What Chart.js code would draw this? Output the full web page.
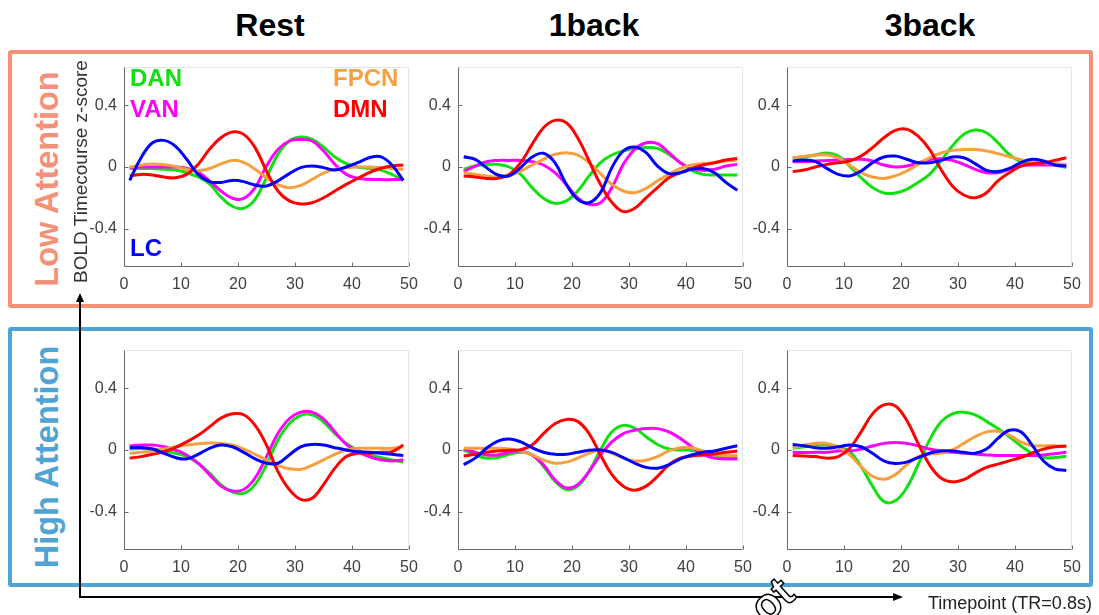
<!DOCTYPE html>
<html>
<head>
<meta charset="utf-8">
<script src="https://cdn.jsdelivr.net/npm/chart.js@4.4.1/dist/chart.umd.min.js"></script>
<style>
  html, body { margin: 0; padding: 0; background: #fff; }
  #fig { position: relative; width: 1099px; height: 615px; overflow: hidden; font-family: "Liberation Sans", Arial, sans-serif; }
  .col-title { position: absolute; top: 9px; width: 200px; text-align: center; font-weight: bold; font-size: 32px; line-height: 32px; color: #000; }
  .box { position: absolute; border: 4px solid; border-radius: 3px; box-sizing: border-box; }
  .row-label { position: absolute; width: 280px; height: 34px; line-height: 34px; text-align: center; font-weight: bold; font-size: 32.5px; transform: rotate(-90deg); white-space: nowrap; }
  .key { position: absolute; font-weight: bold; font-size: 24px; line-height: 24px; white-space: nowrap; }
  .panel { position: absolute; }
  #ylabel { position: absolute; left: -40px; top: 162px; width: 240px; height: 19px; line-height: 19px; font-size: 19px; text-align: center; color: #333; transform: rotate(-90deg); white-space: nowrap; }
  #xlabel { position: absolute; left: 928px; top: 592px; font-size: 18px; line-height: 22px; color: #222; white-space: nowrap; }
  #mark { position: absolute; left: 740px; top: 576px; width: 68px; height: 39px; overflow: hidden; }
  #mark span { position: absolute; left: 16px; top: 6px; font-weight: bold; font-size: 44px; line-height: 44px; color: #fff; -webkit-text-stroke: 1.5px #000; transform: rotate(-42deg); transform-origin: 30% 60%; }
</style>
</head>
<body>
<div id="fig">
  <div class="col-title" style="left:170px">Rest</div>
  <div class="col-title" style="left:494px">1back</div>
  <div class="col-title" style="left:830px">3back</div>

  <div class="box" style="left:8px; top:50px; width:1085px; height:258px; border-color:#f39279"></div>
  <div class="box" style="left:8px; top:327px; width:1085px; height:260px; border-color:#4fa4d3"></div>

  <div class="row-label" style="left:-93px; top:162px; color:#f39279">Low Attention</div>
  <div class="row-label" style="left:-93px; top:440px; color:#4fa4d3">High Attention</div>

  <canvas class="panel" id="low-rest" width="349" height="240" style="left:74px; top:59px"></canvas>
  <canvas class="panel" id="low-1back" width="349" height="240" style="left:408px; top:59px"></canvas>
  <canvas class="panel" id="low-3back" width="349" height="240" style="left:737px; top:59px"></canvas>
  <canvas class="panel" id="high-rest" width="349" height="240" style="left:74px; top:342px"></canvas>
  <canvas class="panel" id="high-1back" width="349" height="240" style="left:408px; top:342px"></canvas>
  <canvas class="panel" id="high-3back" width="349" height="240" style="left:737px; top:342px"></canvas>

  <div class="key" style="left:130px; top:66px; color:#10e010">DAN</div>
  <div class="key" style="left:130px; top:97px; color:#ff00ff">VAN</div>
  <div class="key" style="left:333px; top:66px; color:#f8a040">FPCN</div>
  <div class="key" style="left:333px; top:97px; color:#ff0000">DMN</div>
  <div class="key" style="left:130px; top:236px; color:#0000ff">LC</div>

  <div id="ylabel">BOLD Timecourse z-score</div>

  <svg style="position:absolute; left:0; top:0" width="1099" height="615">
    <line x1="80" y1="300" x2="80" y2="598" stroke="#000" stroke-width="2"/>
    <polygon points="80,293 76,302 84,302" fill="#000"/>
    <line x1="79" y1="597" x2="894" y2="597" stroke="#000" stroke-width="2"/>
    <polygon points="903,597 893,593 893,601" fill="#000"/>
  </svg>

  <div id="xlabel">Timepoint (TR=0.8s)</div>
  <div id="mark"><span>ot</span></div>
</div>

<script>
  const timepoints = [1, 3, 5, 7, 9, 11, 13, 15, 17, 19, 21, 23, 25, 27, 29, 31, 33, 35, 37, 39, 41, 43, 45, 47, 49];
  const xTicks = [0, 10, 20, 30, 40, 50];
  const yTicks = [-0.4, 0, 0.4];

  const networkNames = ["DAN", "VAN", "FPCN", "DMN", "LC"];
  const networkColors = ["#10e010", "#ff00ff", "#f8a040", "#ff0000", "#0000ff"];
  const drawOrder = [4, 3, 2, 1, 0]; // lower = drawn on top

  // Low attention
  const lowRestDAN = [-0.009, -0.009, -0.01, -0.015, -0.02, -0.037, -0.065, -0.11, -0.195, -0.255, -0.268, -0.21, -0.07, 0.082, 0.169, 0.195, 0.18, 0.13, 0.065, 0.022, 0, -0.009, -0.02, -0.048, -0.087];
  const lowRestVAN = [-0.004, 0, 0, 0, 0, -0.008, -0.035, -0.09, -0.156, -0.203, -0.204, -0.134, 0.006, 0.114, 0.169, 0.179, 0.169, 0.104, 0.017, -0.048, -0.074, -0.08, -0.082, -0.082, -0.082];
  const lowRestFPCN = [0, 0.013, 0.02, 0.015, 0.004, -0.015, -0.025, -0.01, 0.02, 0.043, 0.03, -0.015, -0.07, -0.115, -0.135, -0.12, -0.08, -0.04, -0.015, -0.005, 0, 0, -0.004, -0.01, -0.015];
  const lowRestDMN = [-0.058, -0.048, -0.052, -0.065, -0.07, -0.048, 0.017, 0.115, 0.19, 0.227, 0.212, 0.126, -0.026, -0.156, -0.22, -0.24, -0.232, -0.2, -0.156, -0.113, -0.074, -0.037, -0.01, 0.006, 0.013];
  const lowRestLC = [-0.087, 0.06, 0.158, 0.173, 0.136, 0.05, -0.048, -0.095, -0.1, -0.087, -0.095, -0.117, -0.123, -0.09, -0.043, -0.004, 0.006, -0.004, -0.02, 0, 0.028, 0.06, 0.067, 0.013, -0.087];

  const low1backDAN = [-0.015, 0.006, 0.017, 0.017, 0, -0.048, -0.134, -0.203, -0.236, -0.22, -0.156, -0.058, 0.028, 0.078, 0.104, 0.121, 0.126, 0.121, 0.082, 0.028, -0.022, -0.048, -0.052, -0.052, -0.052];
  const low1backVAN = [-0.03, 0.006, 0.035, 0.043, 0.043, 0.043, 0.035, 0.013, -0.037, -0.113, -0.2, -0.243, -0.232, -0.134, 0.017, 0.115, 0.158, 0.152, 0.093, 0.028, -0.009, -0.022, -0.015, 0.006, 0.017];
  const low1backFPCN = [-0.037, -0.048, -0.058, -0.065, -0.048, -0.026, 0.013, 0.05, 0.082, 0.093, 0.078, 0.028, -0.043, -0.113, -0.156, -0.167, -0.139, -0.09, -0.048, -0.009, 0.013, 0.022, 0.028, 0.039, 0.045];
  const low1backDMN = [-0.058, -0.065, -0.074, -0.074, -0.048, 0.028, 0.147, 0.255, 0.303, 0.288, 0.19, 0.039, -0.113, -0.23, -0.29, -0.268, -0.2, -0.134, -0.07, -0.037, -0.009, 0.013, 0.028, 0.045, 0.056];
  const low1backLC = [0.067, 0.05, -0.004, -0.052, -0.058, -0.004, 0.065, 0.089, 0.028, -0.113, -0.21, -0.232, -0.167, -0.004, 0.104, 0.13, 0.093, 0.006, -0.043, -0.037, -0.015, -0.009, -0.037, -0.1, -0.152];

  const low3backDAN = [0.06, 0.065, 0.078, 0.091, 0.071, 0.006, -0.07, -0.134, -0.169, -0.169, -0.145, -0.1, -0.048, 0.039, 0.136, 0.212, 0.24, 0.223, 0.158, 0.082, 0.035, 0.028, 0.028, 0.013, -0.004];
  const low3backVAN = [0.035, 0.035, 0.039, 0.043, 0.045, 0.048, 0.05, 0.039, 0.013, 0, 0.006, 0.028, 0.048, 0.054, 0.043, 0.017, -0.015, -0.037, -0.037, -0.015, 0.006, 0.013, 0.013, 0.013, 0.013];
  const low3backFPCN = [0.06, 0.069, 0.078, 0.078, 0.06, 0.013, -0.037, -0.065, -0.074, -0.058, -0.026, 0.017, 0.06, 0.091, 0.108, 0.113, 0.113, 0.104, 0.087, 0.067, 0.048, 0.035, 0.028, 0.022, 0.013];
  const low3backDMN = [-0.03, -0.02, 0, 0.017, 0.028, 0.039, 0.071, 0.126, 0.19, 0.238, 0.245, 0.2, 0.115, -0.015, -0.123, -0.182, -0.2, -0.167, -0.09, -0.037, 0.006, 0.022, 0.028, 0.043, 0.06];
  const low3backLC = [0.039, 0.045, 0.035, -0.009, -0.048, -0.058, -0.026, 0.028, 0.065, 0.071, 0.05, 0.028, 0.028, 0.043, 0.065, 0.06, 0.022, -0.022, -0.03, -0.009, 0.028, 0.05, 0.039, 0.013, 0.006];

  // High attention
  const highRestDAN = [0.006, 0.011, 0.006, -0.006, -0.021, -0.043, -0.086, -0.15, -0.225, -0.272, -0.282, -0.225, -0.096, 0.064, 0.171, 0.225, 0.229, 0.182, 0.107, 0.043, 0, -0.028, -0.049, -0.064, -0.079];
  const highRestVAN = [0.028, 0.032, 0.032, 0.021, 0, -0.032, -0.086, -0.16, -0.235, -0.267, -0.257, -0.182, -0.043, 0.107, 0.203, 0.246, 0.246, 0.203, 0.118, 0.036, -0.011, -0.043, -0.064, -0.071, -0.064];
  const highRestFPCN = [-0.021, -0.015, -0.006, 0.006, 0.021, 0.032, 0.041, 0.045, 0.043, 0.032, 0.006, -0.028, -0.064, -0.1, -0.122, -0.126, -0.1, -0.064, -0.028, 0, 0.011, 0.011, 0.011, 0.011, 0.021];
  const highRestDMN = [-0.053, -0.043, -0.028, -0.011, 0.015, 0.053, 0.096, 0.15, 0.207, 0.235, 0.229, 0.16, 0.032, -0.139, -0.257, -0.321, -0.314, -0.225, -0.118, -0.043, -0.021, -0.021, -0.015, -0.011, 0.032];
  const highRestLC = [0.015, 0.015, 0.006, -0.021, -0.049, -0.058, -0.028, 0.011, 0.032, 0.021, -0.015, -0.058, -0.086, -0.086, -0.032, 0.021, 0.036, 0.032, 0.015, 0, -0.011, -0.015, -0.021, -0.028, -0.036];

  const high1backDAN = [0, -0.032, -0.053, -0.049, -0.028, -0.015, -0.032, -0.107, -0.203, -0.257, -0.235, -0.139, 0, 0.118, 0.16, 0.143, 0.086, 0.036, 0.006, 0, -0.002, -0.015, -0.032, -0.045, -0.049];
  const high1backVAN = [0.006, -0.015, -0.032, -0.032, -0.015, -0.006, -0.032, -0.096, -0.193, -0.246, -0.225, -0.139, -0.032, 0.053, 0.107, 0.128, 0.139, 0.139, 0.118, 0.075, 0.021, -0.028, -0.053, -0.058, -0.058];
  const high1backFPCN = [0.011, 0.011, 0.011, 0.011, 0.006, -0.006, -0.032, -0.064, -0.086, -0.079, -0.053, -0.021, 0, -0.021, -0.053, -0.071, -0.066, -0.043, -0.006, 0.015, 0.015, -0.006, -0.028, -0.036, -0.036];
  const high1backDMN = [-0.039, -0.028, -0.015, -0.006, -0.002, 0.002, 0.032, 0.107, 0.171, 0.199, 0.186, 0.107, -0.032, -0.16, -0.235, -0.261, -0.235, -0.171, -0.096, -0.053, -0.039, -0.032, -0.026, -0.015, -0.006];
  const high1backLC = [-0.096, -0.053, 0.011, 0.058, 0.071, 0.053, 0.015, -0.015, -0.028, -0.028, -0.015, -0.002, 0, -0.015, -0.049, -0.086, -0.113, -0.118, -0.096, -0.058, -0.032, -0.015, -0.006, 0.011, 0.028];

  const high3backDAN = [0.011, 0.021, 0.032, 0.032, 0.021, -0.011, -0.107, -0.235, -0.335, -0.33, -0.246, -0.096, 0.064, 0.182, 0.235, 0.246, 0.229, 0.186, 0.139, 0.086, 0.028, -0.021, -0.049, -0.049, -0.041];
  const high3backVAN = [-0.015, -0.017, -0.015, -0.015, -0.006, -0.006, 0.006, 0.026, 0.043, 0.049, 0.043, 0.028, 0.006, -0.006, -0.015, -0.021, -0.026, -0.032, -0.036, -0.036, -0.036, -0.036, -0.032, -0.024, -0.015];
  const high3backFPCN = [0.015, 0.032, 0.043, 0.043, 0.021, -0.032, -0.107, -0.171, -0.19, -0.16, -0.096, -0.043, -0.026, -0.021, 0, 0.043, 0.086, 0.118, 0.122, 0.096, 0.053, 0.028, 0.028, 0.028, 0.021];
  const high3backDMN = [-0.036, -0.039, -0.043, -0.053, -0.043, 0.011, 0.118, 0.235, 0.293, 0.286, 0.193, 0.043, -0.096, -0.182, -0.207, -0.193, -0.15, -0.113, -0.092, -0.071, -0.049, -0.021, 0.006, 0.021, 0.026];
  const high3backLC = [0.036, 0.028, 0.015, 0.011, 0.021, 0.032, 0.021, -0.021, -0.071, -0.088, -0.079, -0.049, -0.021, -0.006, -0.006, -0.015, -0.021, 0.006, 0.075, 0.128, 0.118, 0.032, -0.071, -0.122, -0.133];

  const panels = [
    ["low-rest", [lowRestDAN, lowRestVAN, lowRestFPCN, lowRestDMN, lowRestLC]],
    ["low-1back", [low1backDAN, low1backVAN, low1backFPCN, low1backDMN, low1backLC]],
    ["low-3back", [low3backDAN, low3backVAN, low3backFPCN, low3backDMN, low3backLC]],
    ["high-rest", [highRestDAN, highRestVAN, highRestFPCN, highRestDMN, highRestLC]],
    ["high-1back", [high1backDAN, high1backVAN, high1backFPCN, high1backDMN, high1backLC]],
    ["high-3back", [high3backDAN, high3backVAN, high3backFPCN, high3backDMN, high3backLC]],
  ];

  const axisColor = "#6b6b6b";
  const tickFont = { family: "'Liberation Sans', Arial, sans-serif", size: 16 };

  // light box round the axes plus inward tick marks, like the matlab look
  const axesFrame = {
    id: "axesFrame",
    afterDraw(chart) {
      const { ctx, chartArea: a, scales } = chart;
      const L = Math.round(a.left) + 0.5, R = Math.round(a.right) - 0.5;
      const T = Math.round(a.top) + 0.5, B = Math.round(a.bottom) - 0.5;
      ctx.save();
      ctx.lineWidth = 1;
      ctx.strokeStyle = "#e4e4e4";
      ctx.beginPath();
      ctx.moveTo(L, T); ctx.lineTo(R, T); ctx.lineTo(R, B);
      ctx.stroke();
      ctx.strokeStyle = axisColor;
      ctx.beginPath();
      ctx.moveTo(L, T); ctx.lineTo(L, B); ctx.lineTo(R, B);
      scales.x.ticks.forEach((t) => {
        const px = Math.round(scales.x.getPixelForValue(t.value)) + 0.5;
        ctx.moveTo(px, B); ctx.lineTo(px, B - 4);
      });
      scales.y.ticks.forEach((t) => {
        const py = Math.round(scales.y.getPixelForValue(t.value)) + 0.5;
        ctx.moveTo(L, py); ctx.lineTo(L + 4, py);
      });
      ctx.stroke();
      ctx.restore();
    },
  };

  function makePanel(canvasId, series) {
    const datasets = series.map((values, i) => ({
      label: networkNames[i],
      data: values.map((v, k) => ({ x: timepoints[k], y: v })),
      borderColor: networkColors[i],
      borderWidth: 3,
      pointRadius: 0,
      tension: 0.4,
      fill: false,
      order: drawOrder[i],
    }));

    new Chart(document.getElementById(canvasId), {
      type: "line",
      data: { datasets },
      options: {
        responsive: false,
        animation: false,
        devicePixelRatio: 1,
        layout: { padding: { top: 8, right: 14, left: 0, bottom: 0 } },
        plugins: { legend: { display: false }, tooltip: { enabled: false } },
        scales: {
          x: {
            type: "linear",
            min: 0,
            max: 50,
            grid: { display: false, drawTicks: false },
            border: { display: false },
            afterBuildTicks: (s) => { s.ticks = xTicks.map((v) => ({ value: v })); },
            ticks: { padding: 8, color: "#404040", font: tickFont, maxRotation: 0 },
            afterFit: (s) => { s.height = 32; s.paddingLeft = 0; s.paddingRight = 0; },
          },
          y: {
            min: -0.65,
            max: 0.65,
            grid: { display: false, drawTicks: false },
            border: { display: false },
            afterBuildTicks: (s) => { s.ticks = yTicks.map((v) => ({ value: v })); },
            ticks: {
              padding: 7,
              color: "#404040",
              font: tickFont,
              callback: (v) => (v === 0 ? "0" : v.toFixed(1)),
            },
            afterFit: (s) => { s.width = 50; s.paddingTop = 0; s.paddingBottom = 0; },
          },
        },
      },
      plugins: [axesFrame],
    });
  }

  panels.forEach(([id, series]) => makePanel(id, series));
</script>
</body>
</html>
